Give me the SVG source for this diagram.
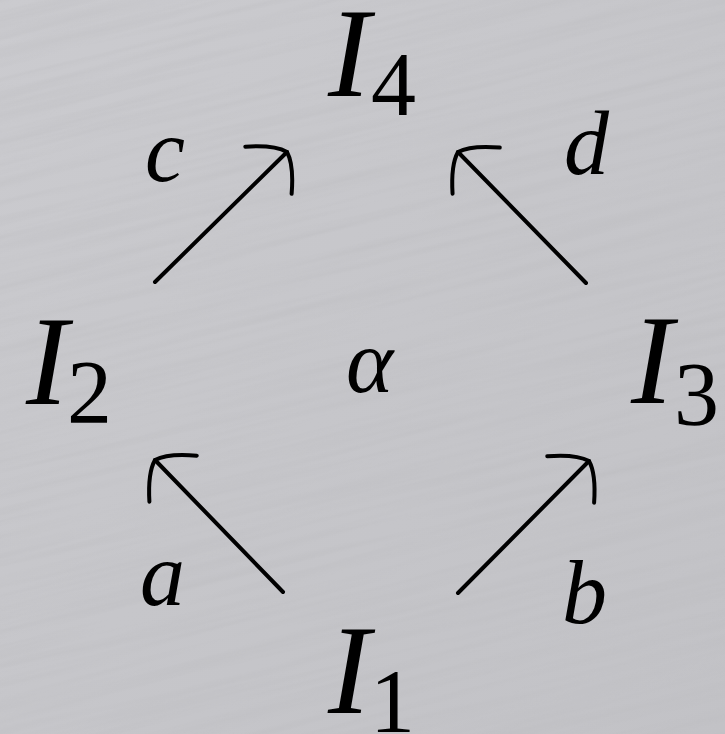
<svg xmlns="http://www.w3.org/2000/svg" width="725" height="734" viewBox="0 0 725 734">
  <defs>
    <linearGradient id="bg" x1="0" y1="0" x2="1" y2="1">
      <stop offset="0" stop-color="#cbcbcf"/>
      <stop offset="0.5" stop-color="#c6c6ca"/>
      <stop offset="1" stop-color="#c2c2c6"/>
    </linearGradient>
    <filter id="brush" x="0" y="0" width="100%" height="100%">
      <feTurbulence type="fractalNoise" baseFrequency="0.004 0.12" numOctaves="3" seed="7" result="n"/>
      <feColorMatrix in="n" type="matrix" values="0 0 0 0 0.5  0 0 0 0 0.5  0 0 0 0 0.52  1.4 0 0 0 -0.55"/>
    </filter>
    <marker id="arr" markerUnits="userSpaceOnUse" viewBox="-40 -40 50 80" refX="0" refY="0" markerWidth="50" markerHeight="80" orient="auto" overflow="visible">
      <path d="M -26,-33 Q -4,-14 0,0 Q -4,14 -26,33" fill="none" stroke="#000" stroke-width="4" stroke-linecap="round"/>
    </marker>
  </defs>
  <style>
    .edge { stroke: #000; stroke-width: 4; fill: none; stroke-linecap: round; marker-end: url(#arr); }
  </style>
  <rect width="725" height="734" fill="url(#bg)"/>
  <g transform="rotate(-14 362 367)" opacity="0.55">
    <rect x="-300" y="-300" width="1325" height="1334" filter="url(#brush)"/>
  </g>

  <g id="connectors">
    <line class="edge" x1="155" y1="282" x2="287" y2="152"/>
    <line class="edge" x1="586" y1="283" x2="458" y2="152"/>
    <line class="edge" x1="283" y1="592" x2="155" y2="460"/>
    <line class="edge" x1="458" y1="593" x2="589" y2="461"/>
  </g>

  <g id="I4"><text font-family="Liberation Serif" font-size="127" font-style="italic" x="328" y="96">I</text><text font-family="Liberation Serif" font-size="90" x="371" y="115">4</text></g>
  <g id="I2"><text font-family="Liberation Serif" font-size="127" font-style="italic" x="26" y="404">I</text><text font-family="Liberation Serif" font-size="90" x="67" y="423">2</text></g>
  <g id="I3"><text font-family="Liberation Serif" font-size="127" font-style="italic" x="631" y="403">I</text><text font-family="Liberation Serif" font-size="90" x="674" y="425">3</text></g>
  <g id="I1"><text font-family="Liberation Serif" font-size="127" font-style="italic" x="328" y="713">I</text><text font-family="Liberation Serif" font-size="90" x="370" y="732">1</text></g>

  <g id="labels">
    <text font-family="Liberation Serif" font-size="90" font-style="italic" x="145" y="181">c</text>
    <text font-family="Liberation Serif" font-size="90" font-style="italic" x="564" y="174">d</text>
    <text font-family="Liberation Serif" font-size="90" font-style="italic" x="140" y="605">a</text>
    <text font-family="Liberation Serif" font-size="90" font-style="italic" x="562" y="623">b</text>
    <text font-family="Liberation Serif" font-size="90" font-style="italic" x="346" y="392">α</text>
  </g>
</svg>
